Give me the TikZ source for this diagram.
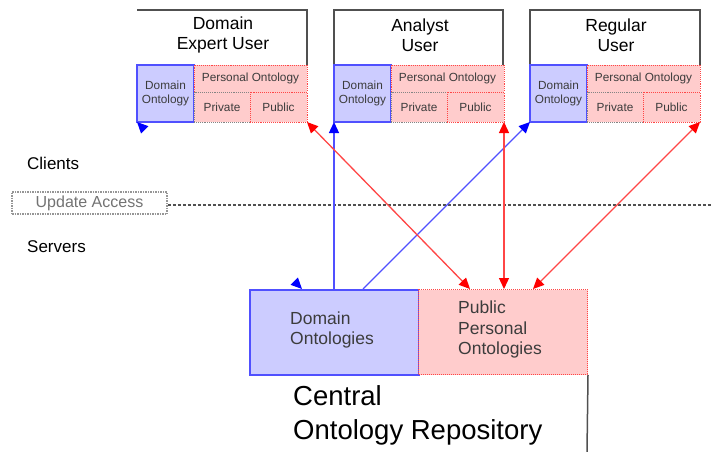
\documentclass[tikz,border=0pt]{standalone}
\usepackage{fontspec}
\setmainfont{Liberation Sans}
\usetikzlibrary{arrows.meta}

\definecolor{domfill}{RGB}{204,204,255}
\definecolor{perfill}{RGB}{255,204,204}
\definecolor{domline}{RGB}{80,80,255}
\definecolor{perline}{RGB}{255,70,70}
\definecolor{frameline}{RGB}{80,80,80}
\definecolor{tipblue}{RGB}{0,0,255}
\definecolor{tipred}{RGB}{255,0,0}
\definecolor{labelgray}{RGB}{60,60,60}

\tikzset{
  cell/.style={anchor=north west, inner sep=0pt, outer sep=0pt, align=center,
    font=\fontsize{11.8}{13.5}\selectfont, text=labelgray},
  domcell/.style={cell, fill=domfill, draw=domline, line width=1.2pt,
    minimum width=57pt, minimum height=57pt},
  percell/.style={cell, fill=perfill, draw=perline, densely dotted, line width=0.9pt},
  privcell/.style={cell, fill=perfill, draw=frameline!70, densely dotted, line width=0.9pt,
    minimum width=56pt, minimum height=30pt},
  titletext/.style={align=center, inner sep=0pt, font=\fontsize{17.5}{20}\selectfont},
  frame/.style={draw=frameline, line width=1.5pt},
  sidelabel/.style={anchor=west, inner sep=0pt, font=\fontsize{17}{20}\selectfont},
  bigtext/.style={anchor=west, align=left, inner sep=0pt, text=labelgray,
    font=\fontsize{17.5}{20.5}\selectfont},
  bluelink/.style={draw=domline, line width=1.3pt},
  redlink/.style={draw=perline, line width=1.3pt},
  btip/.style={-{Triangle[length=11pt,width=10pt,color=tipblue]}},
  rtips/.style={{Triangle[length=11pt,width=10pt,color=tipred]}-{Triangle[length=11pt,width=10pt,color=tipred]}},
}

% one client: domain ontology, personal ontology with private and public parts, title
\newcommand{\usergroup}[3]{%
  \node[domcell] (#2-dom) at (#1,65) {Domain\\Ontology};
  \node[percell, minimum width=113pt, minimum height=27pt] (#2-per) at (#1+57,65) {Personal Ontology};
  \node[privcell] (#2-priv) at (#1+57,92) {Private};
  \node[percell, minimum width=57pt, minimum height=30pt] (#2-pub) at (#1+113,92) {Public};
  \node[titletext] (#2-title) at (#1+86,35) {#3};
}

\begin{document}
\begin{tikzpicture}[x=1pt, y=-1pt]
\useasboundingbox (0,0) rectangle (712,452);

% client frames
\draw[frame] (137,10) -- (307,10) -- (307,65);
\draw[frame] (334,65) -- (334,10) -- (503,10) -- (503,65);
\draw[frame] (530,65) -- (530,10) -- (700,10) -- (700,65);

\usergroup{137}{de}{Domain\\Expert User}
\usergroup{334}{an}{Analyst\\User}
\usergroup{530}{rg}{Regular\\User}

% client / server split
\node[sidelabel] (clients) at (27,163) {Clients};
\node[sidelabel] (servers) at (27,247) {Servers};
\node[draw=frameline!60, densely dotted, line width=1.5pt, text=frameline!80,
      minimum width=155pt, minimum height=22pt, inner sep=0pt,
      font=\fontsize{16}{18}\selectfont] (update) at (89.5,203) {Update Access};
\coordinate (split-end) at (712,205);

% central repository
\node[anchor=north west, fill=domfill, draw=domline, line width=1.5pt,
      minimum width=169pt, minimum height=85pt, inner sep=0pt] (c-dom) at (249,289) {};
\node[anchor=north west, fill=perfill, draw=perline, densely dotted, line width=1pt,
      minimum width=169pt, minimum height=85pt, inner sep=0pt] (c-pub) at (418,289) {};
\node[bigtext] (c-dom-text) at (290,330) {Domain\\Ontologies};
\node[bigtext] (c-pub-text) at (458,329.5) {Public\\Personal\\Ontologies};
\node[anchor=west, align=left, inner sep=0pt, font=\fontsize{27.5}{34}\selectfont]
      (central) at (293,415) {Central\\Ontology Repository};
\coordinate (base) at (587,452);
\draw[frame] (c-pub.south east) -- (base);

% hidden link, only its tips show
\draw[white, line width=1.3pt,
      {Triangle[length=11pt,width=10pt,color=tipblue]}-{Triangle[length=11pt,width=10pt,color=tipblue]}]
      (302,0 |- c-dom.north) -- (de-dom.south west);

\draw[frameline, line width=1.3pt, dash pattern=on 3.5pt off 1.5pt]
      (update.east |- split-end) -- (split-end);

% domain ontology links
\draw[bluelink, btip] (an-dom.south west |- c-dom.north) -- (an-dom.south west);
\draw[bluelink, btip] (363,0 |- c-dom.north) -- (rg-dom.south west);

% public personal ontology links
\draw[redlink, rtips] (de-pub.south east) -- (470,0 |- c-pub.north);
\draw[redlink, rtips] (an-pub.south east) -- (an-pub.south east |- c-pub.north);
\draw[redlink, rtips] (rg-pub.south east) -- (533,0 |- c-pub.north);
\end{tikzpicture}
\end{document}
